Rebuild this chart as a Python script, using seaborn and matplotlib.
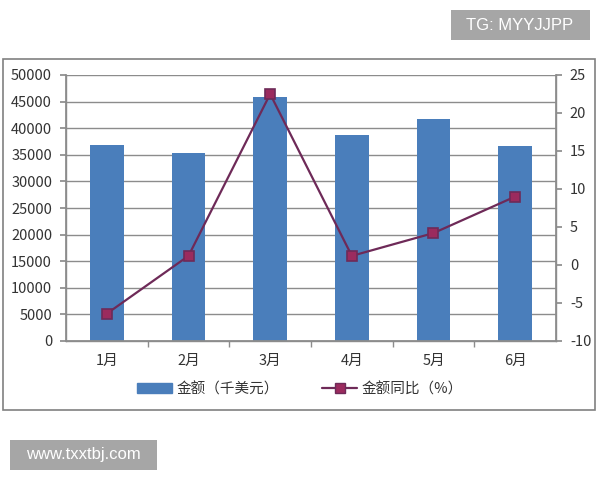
import matplotlib
matplotlib.use("Agg")
import matplotlib.pyplot as plt
import seaborn as sns
import numpy as np
import pandas as pd
from matplotlib.patches import Patch, Rectangle
from matplotlib.lines import Line2D

months = ["1月", "2月", "3月", "4月", "5月", "6月"]
amount = [36800, 35400, 45800, 38700, 41800, 36600]
yoy = [-6.4, 1.2, 22.5, 1.2, 4.2, 9.0]
left_ticks = [0, 5000, 10000, 15000, 20000, 25000, 30000, 35000, 40000, 45000, 50000]
right_ticks = [-10, -5, 0, 5, 10, 15, 20, 25]
bar_label = "金额（千美元）"
line_label = "金额同比（%）"

sns.set_theme(style="white")
plt.rcParams['font.family'] = ['Noto Sans CJK SC', 'DejaVu Sans']

bar_color = "#4A7EBB"
line_color = "#6E2A58"
marker_color = "#9B2B5E"
grid_color = "#8C8C8C"
text_color = "#333333"

df = pd.DataFrame({"month": months, "amount": amount, "yoy": yoy})

fig = plt.figure(figsize=(6, 4.8), dpi=100)
ax = fig.add_axes([66/600, 1-341/480, 490/600, 266/480])

sns.barplot(data=df, x="month", y="amount", color=bar_color, saturation=1,
            width=0.41, ax=ax, zorder=2, linewidth=0, edgecolor="none")
ax.set_ylim(0, 50000)
ax.set_yticks(left_ticks)
ax.set_yticklabels([str(t) for t in left_ticks])
ax.set_xlim(-0.5, 5.5)
ax.yaxis.grid(True, color=grid_color, linewidth=1)
ax.set_axisbelow(True)
ax.set_xlabel("")
ax.set_ylabel("")
for s in ["left", "bottom", "right"]:
    ax.spines[s].set_color(grid_color)
    ax.spines[s].set_linewidth(1)
ax.spines["top"].set_visible(False)
ax.tick_params(axis="y", which="major", left=True, length=4, color=grid_color,
               labelsize=10.5, labelcolor=text_color, pad=6)
ax.tick_params(axis="x", which="major", length=0, labelsize=10.5,
               labelcolor=text_color, pad=9)
ax.set_xticks([0.5, 1.5, 2.5, 3.5, 4.5], minor=True)
ax.tick_params(axis="x", which="minor", bottom=True, length=4, color=grid_color)

ax2 = ax.twinx()
sns.pointplot(data=df, x="month", y="yoy", ax=ax2, color=line_color,
              markers="s", linestyles="-", linewidth=1.6, markersize=7.5)
for ln in ax2.lines:
    ln.set_markerfacecolor(marker_color)
    ln.set_markeredgecolor(line_color)
ax2.set_ylim(-10, 25)
ax2.set_yticks(right_ticks)
ax2.set_yticklabels([str(t) for t in right_ticks])
ax2.set_xlim(-0.5, 5.5)
ax2.set_ylabel("")
ax2.set_xlabel("")
for s in ["left", "bottom", "right"]:
    ax2.spines[s].set_color(grid_color)
ax2.spines["top"].set_visible(False)
ax2.tick_params(axis="y", right=True, length=4, color=grid_color,
                labelsize=10.5, labelcolor=text_color, pad=6)

handles = [Patch(facecolor=bar_color, edgecolor=bar_color),
           Line2D([0], [0], color=line_color, linewidth=1.6, marker="s",
                  markersize=7.5, markerfacecolor=marker_color,
                  markeredgecolor=line_color)]
fig.legend(handles, [bar_label, line_label], loc="center",
           bbox_to_anchor=(0.5, 1-389/480), ncol=2, frameon=False,
           fontsize=10.5, handlelength=2.4, handletextpad=0.3,
           columnspacing=3.0, labelcolor=text_color)

fig.patches.append(Rectangle((3/600, 1-410/480), 592/600, 351/480,
                             transform=fig.transFigure, fill=False,
                             edgecolor="#808080", linewidth=1.2))

fig.patches.append(Rectangle((451/600, 1-40/480), 139/600, 30/480,
                             transform=fig.transFigure, facecolor="#A6A6A6",
                             edgecolor="none"))
fig.text(520/600, 1-25/480, "TG: MYYJJPP", color="white", fontsize=12,
         ha="center", va="center", family=["Liberation Sans", "DejaVu Sans"])
fig.patches.append(Rectangle((10/600, 1-470/480), 147/600, 30/480,
                             transform=fig.transFigure, facecolor="#A6A6A6",
                             edgecolor="none"))
fig.text(83.5/600, 1-455/480, "www.txxtbj.com", color="white", fontsize=12,
         ha="center", va="center", family=["Liberation Sans", "DejaVu Sans"])

fig.savefig("out.png", dpi=100)
